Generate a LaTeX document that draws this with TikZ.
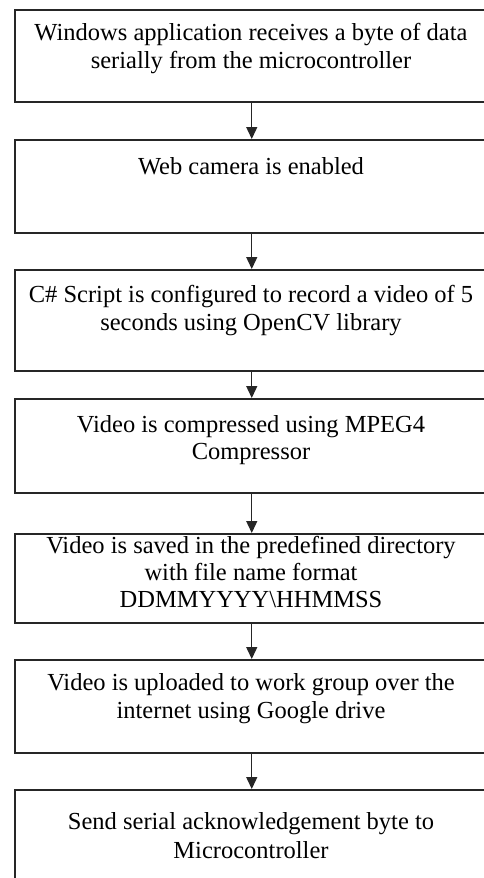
\documentclass[tikz,border=0pt]{standalone}
\usepackage{fontspec}
\setmainfont{Liberation Serif}
\usetikzlibrary{arrows.meta}
\begin{document}
\begin{tikzpicture}[x=1pt,y=-1pt,
  box/.style={draw=black!85,line width=1.5pt,rectangle,inner sep=0pt,anchor=north west,minimum width=474pt},
  lbl/.style={anchor=base,font=\fontsize{24.5}{28}\selectfont,inner sep=0pt,text=black},
  flow/.style={draw=black!85,line width=1.4pt,-{Triangle[width=11pt,length=12pt]}}]
\useasboundingbox (0,0) rectangle (483,878);
\node[box,minimum height=92pt]  (b1) at (14,9)   {};
\node[box,minimum height=93pt]  (b2) at (14,139) {};
\node[box,minimum height=101pt] (b3) at (14,269) {};
\node[box,minimum height=94pt]  (b4) at (14,398) {};
\node[box,minimum height=89pt]  (b5) at (14,533) {};
\node[box,minimum height=93pt]  (b6) at (14,659) {};
\node[box,minimum height=96pt]  (b7) at (14,789) {};
\node[lbl] (t1a) at (251,40)  {Windows application receives a byte of data};
\node[lbl] (t1b) at (251,68)  {serially from the microcontroller};
\node[lbl] (t2a) at (251,174) {Web camera is enabled};
\node[lbl] (t3a) at (251,302) {C\# Script is configured to record a video of 5};
\node[lbl] (t3b) at (251,330) {seconds using OpenCV library};
\node[lbl] (t4a) at (251,432) {Video is compressed using MPEG4};
\node[lbl] (t4b) at (251,459) {Compressor};
\node[lbl] (t5a) at (251,553) {Video is saved in the predefined directory};
\node[lbl] (t5b) at (251,580) {with file name format};
\node[lbl] (t5c) at (251,607) {DDMMYYYY\textbackslash HHMMSS};
\node[lbl] (t6a) at (251,690) {Video is uploaded to work group over the};
\node[lbl] (t6b) at (251,718) {internet using Google drive};
\node[lbl] (t7a) at (251,829) {Send serial acknowledgement byte to};
\node[lbl] (t7b) at (251,858) {Microcontroller};
\draw[flow] (b1.south) -- (b2.north);
\draw[flow] (b2.south) -- (b3.north);
\draw[flow] (b3.south) -- (b4.north);
\draw[flow] (b4.south) -- (b5.north);
\draw[flow] (b5.south) -- (b6.north);
\draw[flow] (b6.south) -- (b7.north);
\end{tikzpicture}
\end{document}
